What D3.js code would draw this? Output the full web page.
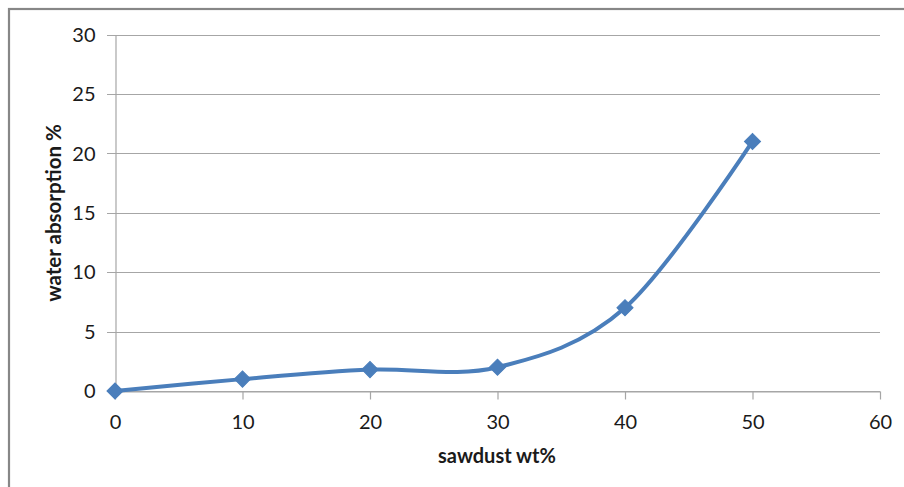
<!DOCTYPE html>
<html>
<head>
<meta charset="utf-8">
<script src="https://cdn.jsdelivr.net/npm/d3@7/dist/d3.min.js"></script>
<style>
html,body{margin:0;padding:0;background:#fff;}
svg{display:block;}
text{font-family:Lato,"Open Sans",sans-serif;fill:#1a1a1a;}
</style>
</head>
<body>
<script>
const sawdust = [0, 10, 20, 30, 40, 50];
const absorption = [0, 1, 1.8, 2, 7, 21];
const xTicks = [0, 10, 20, 30, 40, 50, 60];
const yTicks = [0, 5, 10, 15, 20, 25, 30];
const xTitle = "sawdust wt%";
const yTitle = "water absorption %";

const W = 904, H = 487;
const svg = d3.select("body").append("svg").attr("width", W).attr("height", H);
svg.append("rect").attr("width", W).attr("height", H).attr("fill", "#fff");
// outer chart border (cut at right/bottom)
svg.append("rect").attr("x", 9).attr("y", 9).attr("width", 910).attr("height", 500)
  .attr("fill", "none").attr("stroke", "#878787").attr("stroke-width", 2.2);

const x = d3.scaleLinear().domain([0, 60]).range([115, 880]);
const y = d3.scaleLinear().domain([0, 30]).range([391, 34.5]);

// gridlines
svg.append("g").selectAll("line").data(yTicks).join("line")
  .attr("x1", 107).attr("x2", x(60))
  .attr("y1", d => Math.round(y(d)) + 0.5).attr("y2", d => Math.round(y(d)) + 0.5)
  .attr("stroke", "#a6a6a6").attr("stroke-width", 1.2);

// y axis
const yAxis = d3.axisLeft(y).tickValues(yTicks).tickSize(0).tickPadding(20);
const gy = svg.append("g").attr("transform", "translate(115.5,0)").call(yAxis);
gy.select(".domain").attr("stroke", "#a6a6a6").attr("stroke-width", 1.2);
gy.selectAll("text").style("font-size", "20px").attr("dy", "0.34em");

// x axis
const xAxis = d3.axisBottom(x).tickValues(xTicks).tickSize(8).tickPadding(15).tickSizeOuter(0);
const gx = svg.append("g").attr("transform", "translate(0," + (Math.round(y(0)) + 0.5) + ")").call(xAxis);
gx.select(".domain").attr("stroke", "#a6a6a6").attr("stroke-width", 1.2);
gx.selectAll(".tick line").attr("stroke", "#a6a6a6").attr("stroke-width", 1.2);
gx.selectAll("text").style("font-size", "20px");

// titles
svg.append("text").attr("x", 497).attr("y", 463)
  .attr("text-anchor", "middle").style("font-size", "20px").style("font-weight", "bold").text(xTitle);
svg.append("text").attr("transform", "translate(61,213) rotate(-90)")
  .attr("text-anchor", "middle").style("font-size", "20.5px").style("font-weight", "bold").text(yTitle);

const pts = sawdust.map((d, i) => [d, absorption[i]]);
const line = d3.line().x(d => x(d[0])).y(d => y(d[1])).curve(d3.curveCardinal.tension(0));
svg.append("path").datum(pts).attr("d", line)
  .attr("fill", "none").attr("stroke", "#4a7ebb").attr("stroke-width", 4).attr("stroke-linejoin", "round");

svg.append("g").selectAll("path").data(pts).join("path")
  .attr("d", d3.symbol(d3.symbolSquare, 130))
  .attr("transform", d => "translate(" + x(d[0]) + "," + y(d[1]) + ") rotate(45)")
  .attr("fill", "#4a7ebb").attr("stroke", "#4a7ebb").attr("stroke-width", 1);
</script>
</body>
</html>
